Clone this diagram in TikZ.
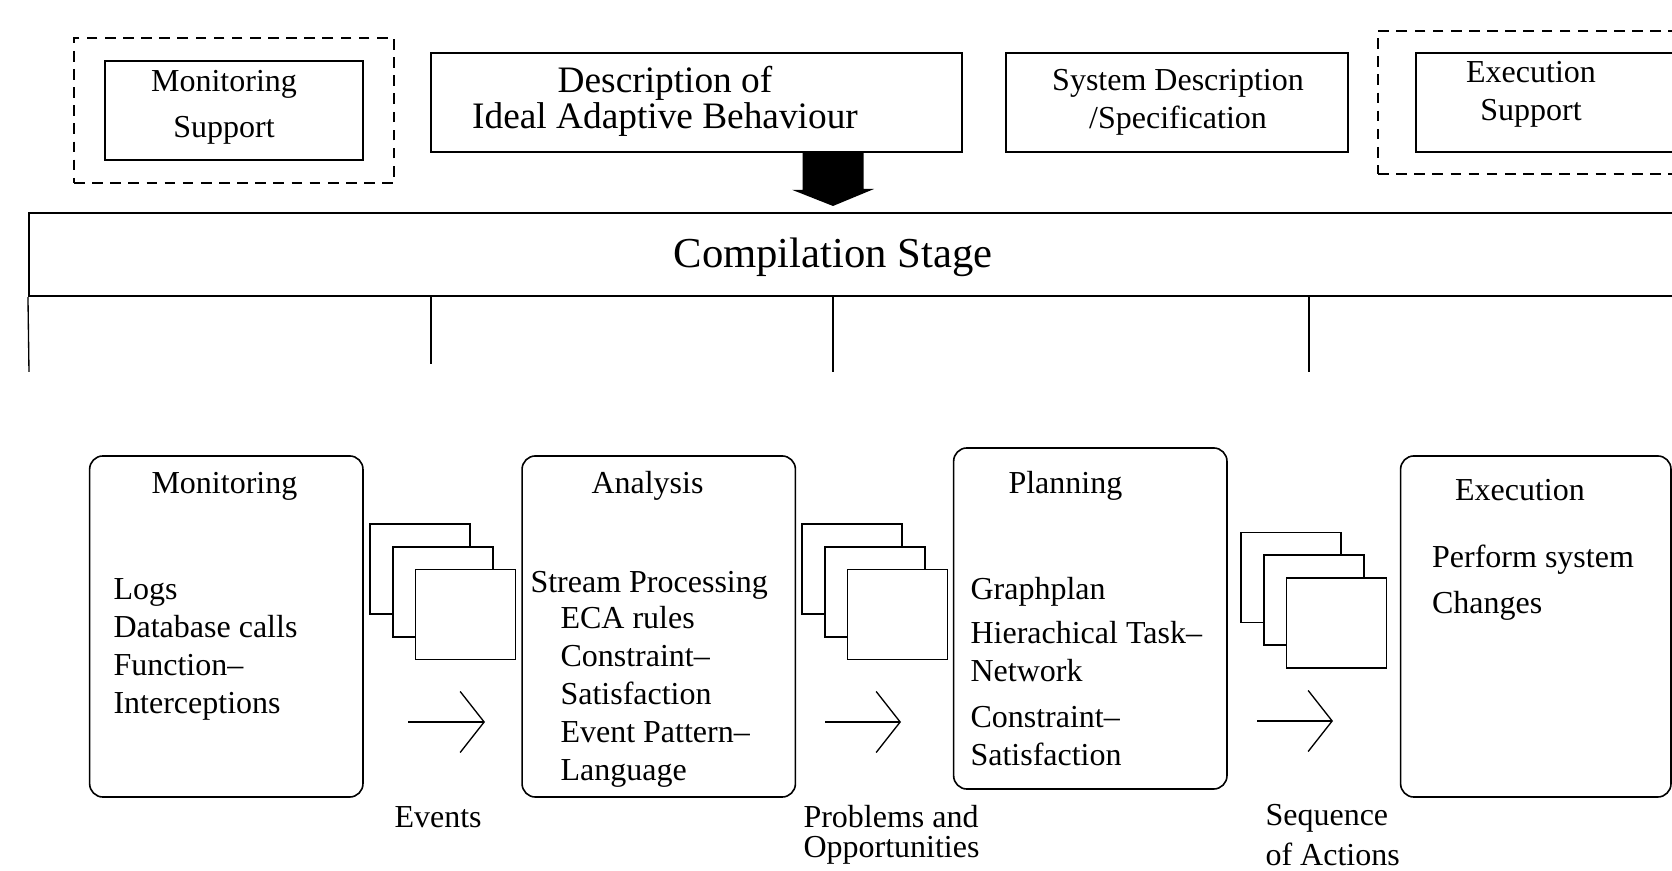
\documentclass[tikz,border=0pt]{standalone}
\usepackage{fontspec}
\setmainfont{Liberation Serif}
\usetikzlibrary{positioning, arrows.meta, calc}
\tikzset{
    dashbox/.style={rectangle, draw=black, dash pattern=on 4pt off 2.8pt, line width=0.5pt},
    supbox/.style={rectangle, draw=black, minimum height=37.125pt, line width=0.6pt},
    stagebox/.style={rectangle, draw=black, line width=0.8pt},
    phasebox/.style={rectangle, rounded corners=5pt, draw=black, minimum width=102.5pt, minimum height=127.9pt, line width=0.6pt},
    docstyle/.style={rectangle, draw=black, fill=white, minimum width=37.5pt, minimum height=33.75pt, line width=0.6pt},
    txt/.style={inner sep=0pt, font=\fontsize{12}{14.25}\selectfont, align=left},
    bigtxt/.style={inner sep=0pt, font=\fontsize{14}{13.5}\selectfont, align=center},
    stagetxt/.style={inner sep=0pt, font=\fontsize{16}{19}\selectfont},
    leg/.style={line width=0.5pt},
    arr/.style={-{Straight Barb[length=9pt, width=22.9pt]}, line width=0.5pt}
}
\begin{document}
\begin{tikzpicture}[x=0.375pt, y=-0.375pt]
    \useasboundingbox (0,0) rectangle (1672,871);

    % Top row: supports and descriptions (text placed at last baseline)
    \node[dashbox, minimum width=120pt, minimum height=54.375pt] (monout) at (234,110.5) {};
    \node[supbox, minimum width=96.75pt] (monsup) at (234,110.5) {};
    \node[txt, align=center, anchor=base, font=\fontsize{12}{17.6}\selectfont] (monsuptxt) at (224,138) {Monitoring\\Support};

    \node[supbox, minimum width=199.125pt] (desc) at (696.5,102.5) {};
    \node[bigtxt, anchor=base] (desctxt) at (665,129) {Description of\\Ideal Adaptive Behaviour};

    \node[supbox, minimum width=128.25pt] (sysdesc) at (1177,102.5) {};
    \node[txt, align=center, anchor=base] (sysdesctxt) at (1178,129) {System Description\\/Specification};

    \node[dashbox, minimum width=128.25pt, minimum height=53.625pt] (exout) at (1549,102.5) {};
    \node[supbox, minimum width=114pt] (exsup) at (1568,102.5) {};
    \node[txt, align=center, anchor=base] (exsuptxt) at (1531,121) {Execution\\Support};

    % Block arrow into the compilation stage
    \coordinate (feedtip) at (833,206);
    \fill (desc.south -| feedtip) ++(-30.5,0) -- ++(0,37) -- ++(-10.5,0) -- (feedtip) -- ++(41,-17) -- ++(-10.5,0) -- ++(0,-37) -- cycle;

    % Compilation stage
    \node[stagebox, minimum width=634.1pt, minimum height=31.125pt] (compile) at (874.5,254.5) {};
    \node[stagetxt, anchor=base] (compiletxt) at (833,268) {Compilation Stage};
    \coordinate (leg1) at (29,372);
    \coordinate (leg2) at (431,364);
    \coordinate (leg3) at (833,372);
    \coordinate (leg4) at (1309,372);
    \draw[leg] (compile.south west) -- (leg1);
    \draw[leg] (leg2 |- compile.south) -- (leg2);
    \draw[leg] (leg3 |- compile.south) -- (leg3);
    \draw[leg] (leg4 |- compile.south) -- (leg4);

    % Phases
    \node[phasebox] (monitor) at (226.3,626.5) {};
    \node[phasebox] (analyse) at (658.75,626.5) {};
    \node[phasebox] (plan) at (1090.3,618.5) {};
    \node[phasebox, minimum width=101.4pt] (execute) at (1535.8,626.5) {};

    \node[txt, anchor=base west] (monitortitle) at (151,494) {Monitoring};
    \node[txt, anchor=base west] (monitortxt) at (113,714) {Logs\\Database calls\\Function\textendash\\Interceptions};

    \node[txt, anchor=base west] (analysetitle) at (591,494) {Analysis};
    \node[txt, anchor=base west] (analysestream) at (530,593) {Stream Processing};
    \node[txt, anchor=base west] (analysetxt) at (560,781) {ECA rules\\Constraint\textendash\\Satisfaction\\Event Pattern\textendash\\Language};

    \node[txt, anchor=base west] (plantitle) at (1008,494) {Planning};
    \node[txt, anchor=base west] (plantxt) at (970,766) {Graphplan\\[2.6pt]Hierachical Task\textendash\\Network\\[3pt]Constraint\textendash\\Satisfaction};

    \node[txt, anchor=base west] (executetitle) at (1454.5,501) {Execution};
    \node[txt, anchor=base west, font=\fontsize{12}{17.25}\selectfont] (executetxt) at (1431.6,614) {Perform system\\Changes};

    % Documents passed between phases
    \node[docstyle] (ev1) at (420,569) {};
    \node[docstyle] (ev2) at (442.75,591.75) {};
    \node[docstyle] (ev3) at (465.5,614.5) {};
    \node[docstyle] (pr1) at (852,569) {};
    \node[docstyle] (pr2) at (874.75,591.75) {};
    \node[docstyle] (pr3) at (897.5,614.5) {};
    \node[docstyle] (sq1) at (1291,577.5) {};
    \node[docstyle] (sq2) at (1313.75,600.25) {};
    \node[docstyle] (sq3) at (1336.5,623) {};

    \coordinate (evfrom) at (408,722);
    \coordinate (evto) at (485,722);
    \coordinate (prfrom) at (825,722);
    \coordinate (prto) at (901,722);
    \coordinate (sqfrom) at (1257,721);
    \coordinate (sqto) at (1333,721);
    \draw[arr] (evfrom) -- (evto);
    \draw[arr] (prfrom) -- (prto);
    \draw[arr] (sqfrom) -- (sqto);

    \node[txt, anchor=base west] (evlbl) at (394,828) {Events};
    \node[txt, anchor=base west, font=\fontsize{12}{11.25}\selectfont] (prlbl) at (803,858) {Problems and\\Opportunities};
    \node[txt, anchor=base west, font=\fontsize{12}{15}\selectfont] (sqlbl) at (1265,866) {Sequence\\of Actions};
\end{tikzpicture}
\end{document}
